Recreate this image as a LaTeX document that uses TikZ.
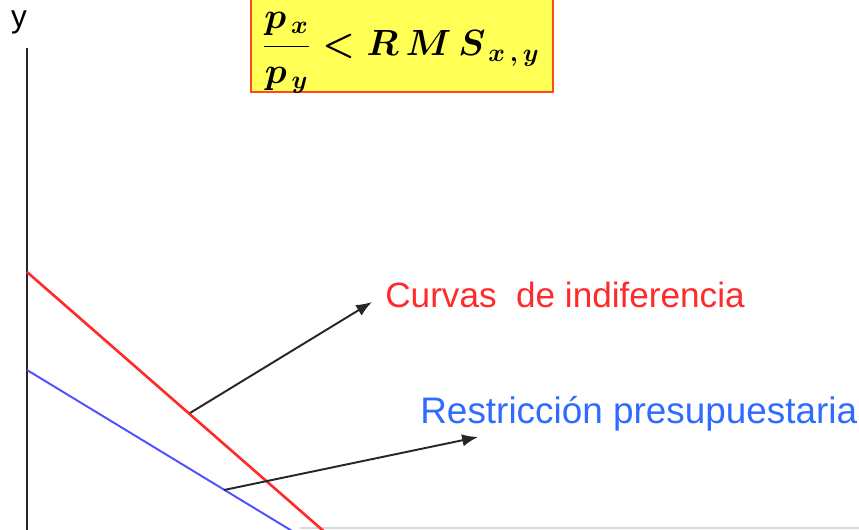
\documentclass[tikz,border=0pt]{standalone}
\usepackage{amsmath}
\usepackage{amssymb}
\usepackage{xcolor}
\usepackage{fontspec}
\setmainfont{Liberation Sans}
\usetikzlibrary{arrows.meta}
\definecolor{curvared}{HTML}{FF2A2A}
\definecolor{curvablue}{HTML}{4F4FFF}
\definecolor{textblue}{HTML}{2F6BFF}
\definecolor{boxyellow}{HTML}{FFFF55}
\definecolor{boxborder}{HTML}{FF4A1A}

\begin{document}
\begin{tikzpicture}[x=0.02cm, y=-0.02cm,
        axisline/.style = {line width=1.5pt, black!85},
        pointer/.style = {line width=1.1pt, black!85, -{Latex[length=9pt, width=7pt]}}]
                \useasboundingbox (0,0) rectangle (859,529);
                \clip (0,0) rectangle (859,529);
                
                \draw[axisline] (27,48) -- (27,535);
                \draw[gray!30, line width=1pt] (300,528) -- (859,528);
                \node (ylabel) at (19,22) {\fontsize{18}{20}\selectfont y};
                
                \draw[line width=1.5pt, curvared] (27,272) -- (335,541);
                \draw[line width=1.1pt, curvablue] (27,370) -- (302,537);
                
                \node[draw = boxborder, line width=1.5pt, fill = boxyellow, minimum width=302*0.02cm, minimum height=112*0.02cm, inner sep=0pt] (formula) at (402,36) {};
                \node[font = \fontsize{20}{24}\selectfont\boldmath] (rms) at (401,53) {$\dfrac{p_{\,x}}{p_{\,y}} < R\,M\,S_{\,x\,,\,y}$};
                
                \node[anchor = west, text = curvared, inner sep=0pt] (curvas) at (385,295) {\fontsize{20}{24}\selectfont Curvas\ \ de indiferencia};
                \node[anchor = west, text = textblue, inner sep=0pt] (restr) at (420,414) {\fontsize{21}{24}\selectfont Restricción presupuestaria};
                
                \coordinate (onred) at (190,413);
                \coordinate (redtip) at (372,302);
                \coordinate (onblue) at (224,490);
                \coordinate (bluetip) at (478,437);
                \draw[pointer] (onred) -- (redtip);
                \draw[pointer] (onblue) -- (bluetip);
            \end{tikzpicture}
\end{document}
